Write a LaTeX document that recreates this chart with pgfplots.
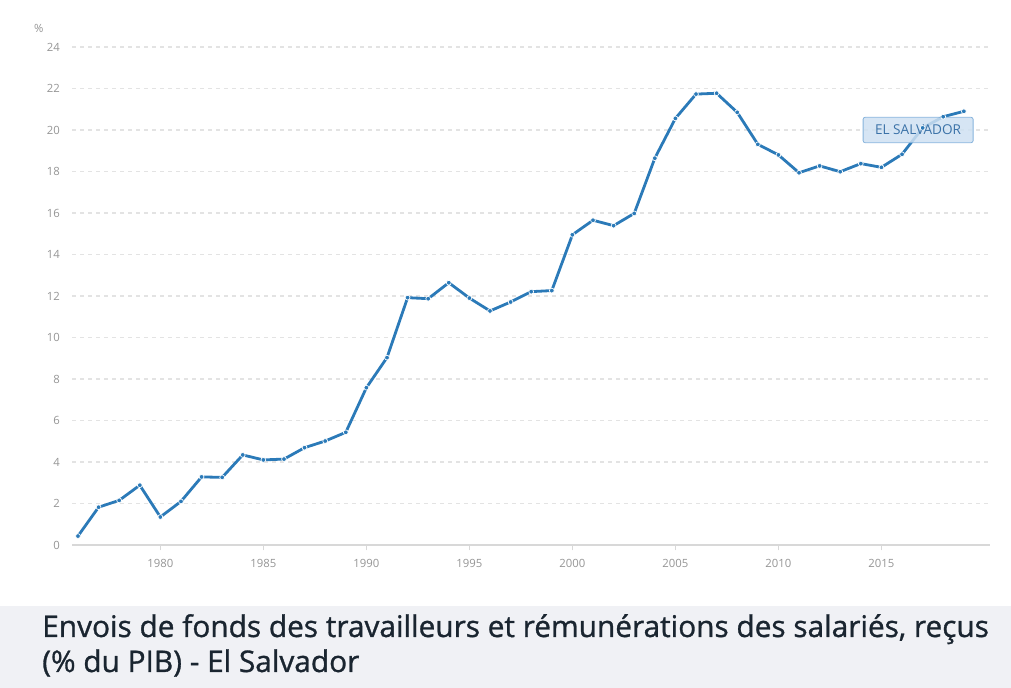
\documentclass[border=0pt]{standalone}
\usepackage{pgfplots}
\pgfplotsset{compat=1.18}
\usepackage{fontspec}
\setmainfont{Open Sans}
\newfontfamily\titlefont[FakeBold=1.0]{Open Sans}
\definecolor{lineblue}{HTML}{2B7AB8}
\definecolor{gridgrey}{HTML}{E3E3E3}
\definecolor{labelgrey}{HTML}{959595}
\definecolor{axisgrey}{HTML}{D8D8D8}
\definecolor{boxfill}{HTML}{CFE1F2}
\definecolor{boxdraw}{HTML}{86B3DC}
\definecolor{boxtext}{HTML}{3B72A8}
\definecolor{titlebg}{HTML}{F0F1F5}
\definecolor{titletext}{HTML}{1A2530}
\begin{document}
\begin{tikzpicture}
\useasboundingbox (0,0) rectangle (758.25pt,516pt);
\fill[titlebg] (0,0) rectangle (758.25pt,61.5pt);
\node[anchor=base west, inner sep=0, text=titletext, font=\titlefont\fontsize{22.35pt}{27pt}\selectfont] at (31.5pt,38.25pt) {Envois de fonds des travailleurs et rémunérations des salariés, reçus};
\node[anchor=base west, inner sep=0, text=titletext, font=\titlefont\fontsize{22.35pt}{27pt}\selectfont] at (31.5pt,12pt) {(\% du PIB) - El Salvador};
\node[anchor=center, inner sep=0, text=labelgrey, font=\fontsize{8.5pt}{10pt}\selectfont] at (29pt,495pt) {\%};
\begin{axis}[
  at={(54pt,107.25pt)}, anchor=south west,
  scale only axis, width=688.5pt, height=373.5pt,
  xmin=1975.71, xmax=2020.27, ymin=0, ymax=24,
  axis x line*=bottom, axis y line*=left,
  y axis line style={draw=none},
  x axis line style={color=axisgrey, line width=0.8pt},
  xtick={1980,1985,...,2015},
  ytick={0,2,...,24},
  xticklabel style={/pgf/number format/1000 sep={}},
  /pgf/number format/assume math mode=true,
  tick label style={font=\fontsize{8.5pt}{10pt}\selectfont, text=labelgrey},
  tick align=outside,
  major tick length=4pt,
  xtick style={color=axisgrey, line width=0.8pt},
  ytick style={draw=none},
  yticklabel style={xshift=-1.5pt},
  xticklabel style={yshift=-3.5pt},
  ymajorgrids,
  grid style={color=gridgrey, line width=0.8pt, dash pattern=on 3pt off 3pt},
  clip=false,
]
\addplot[color=lineblue, line width=2.1pt, mark=*, mark size=1.8pt,
  mark options={fill=lineblue, draw=white, line width=0.5pt, solid}] coordinates {
(1976,0.43) (1977,1.82) (1978,2.15) (1979,2.88) (1980,1.35) (1981,2.10)
(1982,3.28) (1983,3.26) (1984,4.34) (1985,4.10) (1986,4.14) (1987,4.69)
(1988,5.01) (1989,5.43) (1990,7.58) (1991,9.03) (1992,11.92) (1993,11.87)
(1994,12.64) (1995,11.90) (1996,11.28) (1997,11.71) (1998,12.21) (1999,12.26)
(2000,14.95) (2001,15.65) (2002,15.39) (2003,15.98) (2004,18.64) (2005,20.56)
(2006,21.73) (2007,21.77) (2008,20.85) (2009,19.31) (2010,18.80) (2011,17.94)
(2012,18.27) (2013,17.99) (2014,18.38) (2015,18.20) (2016,18.83) (2017,20.10)
(2018,20.64) (2019,20.90)
};
\node[fill=boxfill, fill opacity=0.85, text opacity=1, draw=boxdraw, line width=0.6pt,
  rounded corners=1.5pt, minimum width=82.5pt, minimum height=19pt, inner sep=0,
  text=boxtext, font=\fontsize{10.2pt}{12pt}\selectfont] at (axis cs:2016.78,20.0) {EL SALVADOR};
\end{axis}
\end{tikzpicture}
\end{document}
